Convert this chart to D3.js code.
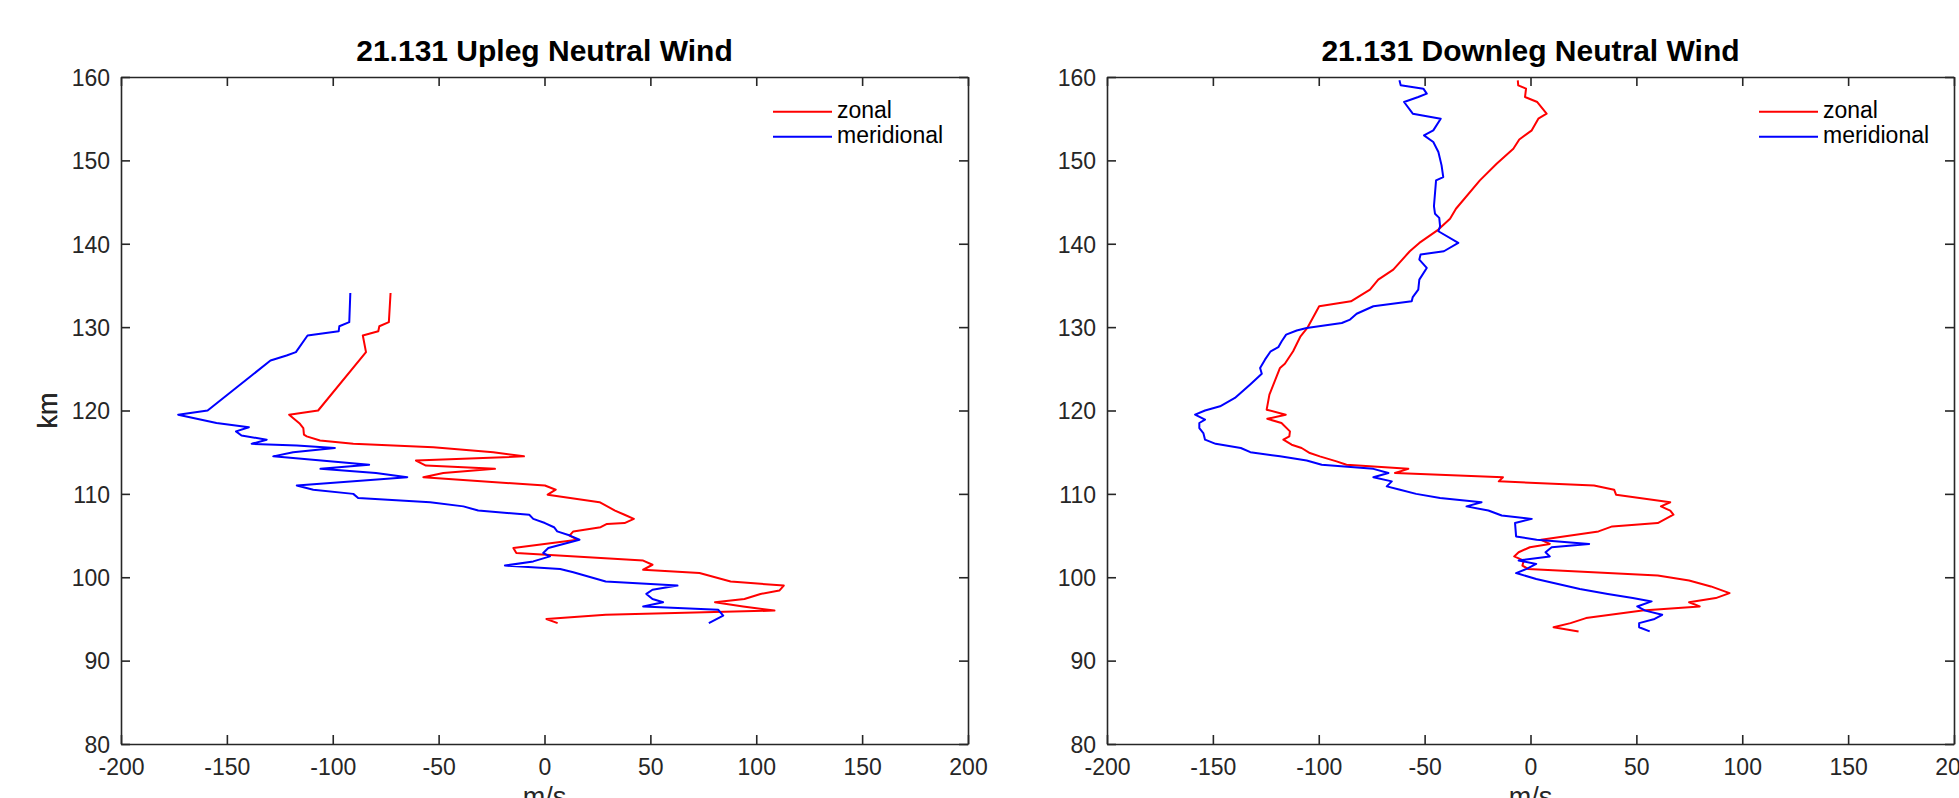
<!DOCTYPE html>
<html>
<head>
<meta charset="utf-8">
<script src="https://d3js.org/d3.v7.min.js"></script>
<style>
  body { margin: 0; background: #fff; }
  svg text { font-family: "Liberation Sans", Arial, Helvetica, sans-serif; }
  .axis path, .axis line { stroke: #262626; stroke-width: 1.6; }
  .axis text { fill: #262626; font-size: 23px; }
  .title { font-size: 30px; font-weight: bold; fill: #000; }
  .axis-label { font-size: 27px; fill: #262626; }
  .legend text { font-size: 23px; fill: #000; }
</style>
</head>
<body>
<svg id="chart" width="1959" height="798"></svg>
<script>
// Axis ticks
const xTicks = [-200, -150, -100, -50, 0, 50, 100, 150, 200];
const yTicks = [80, 90, 100, 110, 120, 130, 140, 150, 160];
const seriesNames = ['zonal', 'meridional'];
const seriesColors = ['#ff0000', '#0000ff'];

// Upleg, zonal (km, m/s)
const upZonalAlt = [134.1, 130.6, 130.1, 129.5, 129.0, 127.0, 120.0, 119.5, 118.4, 117.9, 117.1, 116.9, 116.4, 116.0, 115.6, 115.0, 114.5, 114.0, 113.4, 113.0, 112.5, 112.0, 111.0, 110.5, 109.9, 109.0, 108.0, 107.5, 107.0, 106.5, 106.4, 106.0, 105.5, 105.0, 104.5, 103.5, 102.9, 102.0, 101.5, 100.9, 100.5, 99.5, 99.0, 98.4, 98.0, 97.4, 97.0, 96.5, 96.0, 95.5, 95.0, 94.5];
const upZonal = [-72.7, -73.5, -78, -78.5, -85.8, -84.3, -106.9, -120.6, -115.5, -113.9, -113.6, -112.3, -106, -90.3, -52.5, -24.2, -9.7, -60.7, -56, -23.4, -47.8, -57.2, 0.2, 5.3, 1.5, 26, 33.3, 37.8, 42.2, 37.8, 29.5, 26.5, 13.6, 11.8, 15.6, -14.7, -13.3, 46.6, 51, 46.6, 73.2, 87.9, 113, 110.9, 102, 94.4, 80.5, 93.8, 108.6, 28.9, 0.9, 6.2];

// Upleg, meridional
const upMeridAlt = [134.1, 130.6, 130.1, 129.5, 129.0, 127.0, 126.6, 126.0, 124.2, 120.0, 119.5, 118.5, 118.0, 117.5, 117.0, 116.5, 116.0, 115.8, 115.5, 115.0, 114.5, 113.5, 113.0, 112.5, 112.0, 111.0, 110.5, 110.0, 109.5, 109.0, 108.5, 108.0, 107.5, 107.0, 106.5, 106.0, 105.5, 105.0, 104.5, 103.5, 102.9, 102.5, 101.9, 101.4, 101.0, 100.6, 99.5, 99.0, 98.5, 98.0, 97.4, 97.0, 96.5, 96.1, 95.4, 94.5];
const upMerid = [-91.7, -92.2, -96.9, -97.2, -111.9, -117.4, -121.8, -129.4, -138.3, -159.1, -173, -154.9, -139.6, -145.7, -143.1, -131.2, -138.3, -117, -99, -118.7, -128.1, -82.8, -105.8, -79.6, -64.8, -117, -109.2, -90.3, -88, -54, -38.3, -31.3, -7.2, -5.3, 0.2, 4.5, 6, 12, 16.5, 1.8, -0.6, 2.6, -5.3, -18.7, 7.4, 13.6, 28.9, 62.8, 51, 48.1, 51, 56, 46.6, 82, 84.4, 77.6];

// Downleg, zonal
const downZonalAlt = [159.6, 159.0, 158.6, 157.6, 157.0, 155.6, 155.0, 153.6, 152.5, 151.4, 149.6, 147.6, 144.2, 143.0, 141.7, 140.1, 139.1, 136.9, 135.7, 134.5, 133.1, 132.5, 129.9, 128.9, 127.1, 125.6, 125.1, 121.9, 120.1, 119.5, 119.0, 118.5, 117.5, 116.9, 116.5, 115.9, 115.5, 114.9, 114.5, 113.9, 113.5, 113.0, 112.5, 112.0, 111.5, 111.0, 110.5, 109.9, 109.0, 108.5, 108.0, 107.5, 106.5, 106.1, 105.5, 104.5, 104.0, 103.6, 103.0, 102.5, 102.0, 101.4, 101.0, 100.2, 99.6, 98.9, 98.1, 97.5, 97.0, 96.5, 96.0, 95.1, 94.5, 94.0, 93.5];
const downZonal = [-6.0, -5.8, -2.1, -2.6, 3.2, 7.6, 3.7, 0.6, -5.3, -8.1, -16, -23.9, -35.2, -38, -43.5, -52.5, -57, -64.8, -71.9, -75.8, -84.8, -99.8, -105.4, -108.6, -112.1, -116, -118.3, -123.3, -124.6, -115.6, -124.3, -117.6, -113.6, -113.9, -116.7, -112.8, -108.1, -104.2, -99.5, -91.6, -86.9, -57.7, -64, -13, -15, 30, 39.5, 40.4, 66, 61.6, 66, 67.5, 60.1, 38.6, 32.1, 5, 9.1, -0.3, -5.6, -7.7, -3.2, -3.8, -1.2, 60.1, 74.9, 85.2, 94, 87.5, 74.9, 79.9, 52.8, 26.2, 18.9, 10.9, 22.7];

// Downleg, meridional
const downMeridAlt = [159.6, 159.0, 158.6, 158.0, 157.6, 157.0, 155.6, 155.0, 153.6, 153.0, 152.2, 151.0, 149.4, 148.0, 147.6, 144.5, 143.6, 143.1, 142.1, 141.5, 140.1, 139.1, 138.7, 138.1, 137.1, 135.7, 134.5, 133.6, 133.1, 132.5, 131.6, 130.9, 130.5, 129.9, 129.6, 129.1, 128.3, 127.6, 127.1, 126.1, 125.1, 124.4, 123.1, 121.5, 120.5, 120.0, 119.5, 118.9, 118.5, 117.9, 117.3, 116.5, 116.0, 115.5, 115.0, 114.5, 114.0, 113.5, 113.0, 112.5, 112.0, 111.5, 110.9, 110.5, 110.0, 109.5, 109.0, 108.5, 108.0, 107.4, 107.0, 106.5, 104.9, 104.5, 104.0, 103.6, 103.0, 102.5, 102.0, 101.6, 101.0, 100.5, 99.8, 98.6, 98.0, 97.5, 97.1, 96.5, 96.0, 95.5, 95.0, 94.5, 94.0, 93.5];
const downMerid = [-61.9, -61.3, -50.6, -49, -53, -59.7, -55.6, -42.4, -45.9, -50.3, -45.9, -43.5, -42, -41.2, -44.6, -45.6, -45.1, -43.1, -42.7, -43.5, -34.1, -40.9, -51.9, -52.5, -49, -52.5, -53, -55.6, -56.1, -74.2, -82.1, -85.2, -89.1, -105.7, -110.4, -115.4, -117.5, -119.1, -122.7, -125.4, -127.7, -126.9, -132.5, -139.6, -146.6, -153.7, -158.4, -153.7, -156.4, -156.4, -154.5, -153.7, -148.7, -136.8, -132.3, -118.3, -105.7, -98.6, -74.2, -67.1, -74.2, -65.5, -67.9, -61.6, -54, -42.7, -23.1, -30.2, -19.9, -13.6, 0.6, -7.3, -6.8, 2.9, 27.7, 10, 7.1, 9.1, -5.6, 2.7, -1.8, -6.8, 2.7, 23.3, 36.5, 48.3, 57.2, 50.4, 54.2, 62.2, 58.6, 51.3, 51.3, 56.3];

class WindProfile {

    constructor(_config, _series) {
        this.config = {
            parentElement: _config.parentElement,
            title: _config.title,
            left: _config.left,
            top: _config.top || 77,
            width: _config.width || 847,
            height: _config.height || 667
        }
        this.series = _series;
        this.initVis();
    }

    initVis() {
        let vis = this;

        vis.xScale = d3.scaleLinear()
            .domain([xTicks[0], xTicks[xTicks.length - 1]])
            .range([0, vis.config.width]);

        vis.yScale = d3.scaleLinear()
            .domain([yTicks[0], yTicks[yTicks.length - 1]])
            .range([vis.config.height, 0]);

        vis.chart = d3.select(vis.config.parentElement).append('g')
            .attr('transform', `translate(${vis.config.left},${vis.config.top})`);

        // plain hyphen for negatives, like the original
        const fmt = d => String(d);

        // inward ticks on all four sides, labels only bottom / left
        vis.chart.append('g')
            .attr('class', 'axis x-axis')
            .attr('transform', `translate(0,${vis.config.height})`)
            .call(d3.axisBottom(vis.xScale).tickValues(xTicks).tickFormat(fmt).tickSizeInner(-9).tickSizeOuter(0).tickPadding(14.7));

        vis.chart.append('g')
            .attr('class', 'axis')
            .call(d3.axisTop(vis.xScale).tickValues(xTicks).tickSizeInner(-9).tickSizeOuter(0).tickFormat(''));

        vis.chart.append('g')
            .attr('class', 'axis y-axis')
            .call(d3.axisLeft(vis.yScale).tickValues(yTicks).tickFormat(fmt).tickSizeInner(-9).tickSizeOuter(0).tickPadding(11));

        vis.chart.append('g')
            .attr('class', 'axis')
            .attr('transform', `translate(${vis.config.width},0)`)
            .call(d3.axisRight(vis.yScale).tickValues(yTicks).tickSizeInner(-9).tickSizeOuter(0).tickFormat(''));

        vis.chart.selectAll('.x-axis text').attr('dy', '0.71em');
        vis.chart.selectAll('.y-axis text').attr('dy', '0.36em');

        // Title and axis titles
        vis.chart.append('text')
            .attr('class', 'title')
            .attr('x', vis.config.width / 2)
            .attr('y', -16)
            .attr('text-anchor', 'middle')
            .text(vis.config.title);

        vis.chart.append('text')
            .attr('class', 'axis-label')
            .attr('transform', `translate(${57 - vis.config.left},${vis.config.height / 2}) rotate(-90)`)
            .attr('text-anchor', 'middle')
            .text('km');

        vis.chart.append('text')
            .attr('class', 'axis-label')
            .attr('x', vis.config.width / 2)
            .attr('y', vis.config.height + 62)
            .attr('text-anchor', 'middle')
            .text('m/s');

        vis.line = d3.line()
            .x(d => vis.xScale(d.v))
            .y(d => vis.yScale(d.h));

        vis.renderVis();
    }

    renderVis() {
        let vis = this;

        vis.chart.selectAll('.profile')
            .data(vis.series)
            .join('path')
            .attr('class', 'profile')
            .attr('fill', 'none')
            .attr('stroke', (d, i) => seriesColors[i])
            .attr('stroke-width', 2)
            .attr('stroke-linejoin', 'round')
            .attr('d', d => vis.line(d.alt.map((h, i) => ({h: h, v: d.values[i]}))));

        // Legend, top right
        const legend = vis.chart.append('g')
            .attr('class', 'legend')
            .attr('transform', `translate(${vis.config.width - 195},34.7)`);

        const items = legend.selectAll('g')
            .data(seriesNames)
            .join('g')
            .attr('transform', (d, i) => `translate(0,${i * 25})`);

        items.append('line')
            .attr('x1', 0).attr('x2', 59)
            .attr('stroke', (d, i) => seriesColors[i])
            .attr('stroke-width', 2);

        items.append('text')
            .attr('x', 64)
            .attr('y', 6)
            .text(d => d);
    }
}

new WindProfile({parentElement: '#chart', title: '21.131 Upleg Neutral Wind', left: 121},
    [{alt: upZonalAlt, values: upZonal}, {alt: upMeridAlt, values: upMerid}]);

new WindProfile({parentElement: '#chart', title: '21.131 Downleg Neutral Wind', left: 1107},
    [{alt: downZonalAlt, values: downZonal}, {alt: downMeridAlt, values: downMerid}]);
</script>
</body>
</html>
